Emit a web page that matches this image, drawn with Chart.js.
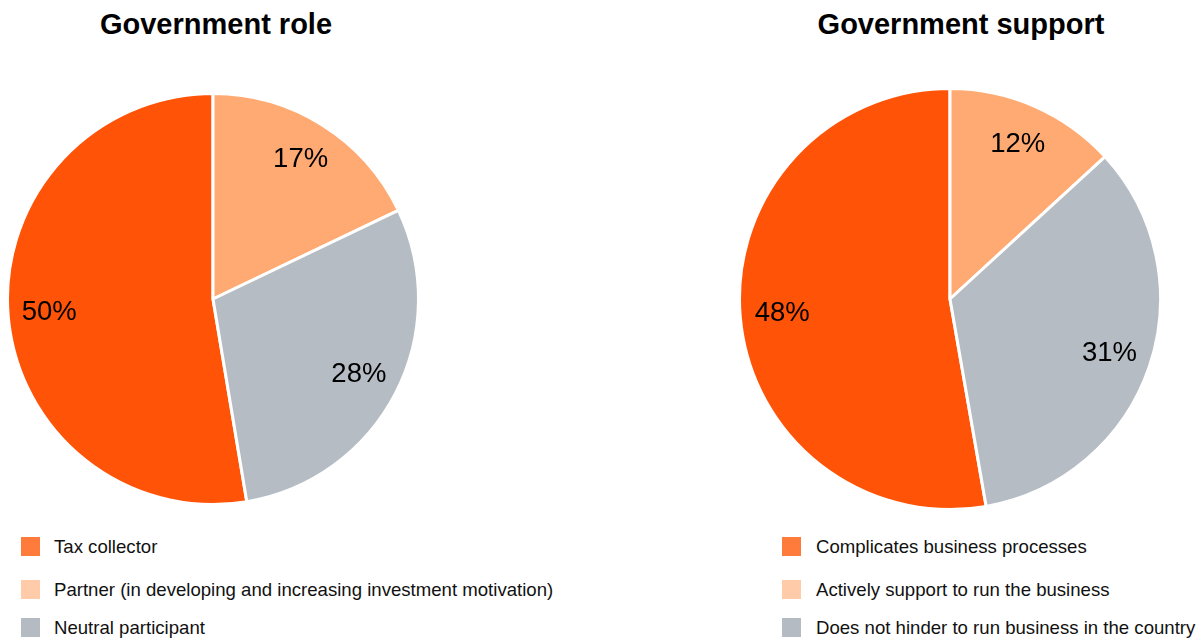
<!DOCTYPE html>
<html>
<head>
<meta charset="utf-8">
<script src="https://cdn.jsdelivr.net/npm/chart.js@4.4.0/dist/chart.umd.min.js"></script>
<style>
  body { margin: 0; background: #fff; font-family: "Liberation Sans", Arial, sans-serif; }
  #page { position: relative; width: 1204px; height: 644px; overflow: hidden; }
  .title { position: absolute; top: 8px; font-weight: bold; font-size: 29px; color: #000; white-space: nowrap; transform: translateX(-50%); }
  .wrap { position: absolute; }
  .legend { position: absolute; top: 537px; font-size: 18.6px; color: #111; }
  .legend .item { position: absolute; left: 0; white-space: nowrap; height: 19px; }
  .legend .box { position: absolute; left: 0; top: 0; width: 19px; height: 19px; }
  .legend .txt { position: absolute; top: 0; line-height: 19px; }
</style>
</head>
<body>
<div id="page">
  <div class="title" style="left:216px">Government role</div>
  <div class="title" style="left:961px">Government support</div>
  <div class="wrap" style="left:-2px;top:92px;width:430px;height:414px"><canvas id="roleChart"></canvas></div>
  <div class="wrap" style="left:735px;top:87px;width:430px;height:424px"><canvas id="supportChart"></canvas></div>
  <div class="legend" id="roleLegend" style="left:21px"></div>
  <div class="legend" id="supportLegend" style="left:782px"></div>
</div>
<script>
// legend order
const roleLabels = ['Tax collector', 'Partner (in developing and increasing investment motivation)', 'Neutral participant'];
const roleValues = [50, 17, 28];

const supportLabels = ['Complicates business processes', 'Actively support to run the business', 'Does not hinder to run business in the country'];
const supportValues = [48, 12, 31];

const sliceColors = ['#FF5308', '#FFAA72', '#B6BCC4'];
const legendColors = ['#FF7B3B', '#FFCBA8', '#B4BBC3'];
const legendRows = [0, 43, 81];

// percent labels inside each slice
const sliceLabels = {
  id: 'sliceLabels',
  afterDatasetsDraw(chart) {
    const ctx = chart.ctx;
    const meta = chart.getDatasetMeta(0);
    const data = chart.data.datasets[0].data;
    ctx.save();
    ctx.font = '27.5px "Liberation Sans", Arial, sans-serif';
    ctx.fillStyle = '#000';
    ctx.textAlign = 'center';
    ctx.textBaseline = 'middle';
    meta.data.forEach((arc, i) => {
      const p = arc.getProps(['x', 'y', 'startAngle', 'endAngle', 'outerRadius'], true);
      const mid = (p.startAngle + p.endAngle) / 2;
      const r = p.outerRadius * 0.8;
      ctx.fillText(data[i] + '%', p.x + Math.cos(mid) * r, p.y + Math.sin(mid) * r);
    });
    ctx.restore();
  }
};

function makePie(id, labels, values) {
  const total = values.reduce((a, b) => a + b, 0);
  return new Chart(document.getElementById(id), {
    type: 'pie',
    data: {
      labels: labels,
      datasets: [{
        data: values,
        backgroundColor: sliceColors,
        borderColor: '#fff',
        borderWidth: 3
      }]
    },
    options: {
      animation: false,
      responsive: true,
      maintainAspectRatio: false,
      // first slice ends at 12 o'clock, the rest go clockwise from there
      rotation: -(values[0] / total) * 360,
      plugins: {
        legend: { display: false },
        tooltip: { enabled: false }
      }
    },
    plugins: [sliceLabels]
  });
}

function makeLegend(id, labels) {
  const el = document.getElementById(id);
  labels.forEach((lab, i) => {
    const item = document.createElement('div');
    item.className = 'item';
    item.style.top = legendRows[i] + 'px';
    item.innerHTML = '<span class="box" style="background:' + legendColors[i] + '"></span>' +
      '<span class="txt" style="left:' + (id === 'roleLegend' ? 33 : 34) + 'px"></span>';
    item.querySelector('.txt').textContent = lab;
    el.appendChild(item);
  });
}

makePie('roleChart', roleLabels, roleValues);
makePie('supportChart', supportLabels, supportValues);
makeLegend('roleLegend', roleLabels);
makeLegend('supportLegend', supportLabels);
</script>
</body>
</html>
